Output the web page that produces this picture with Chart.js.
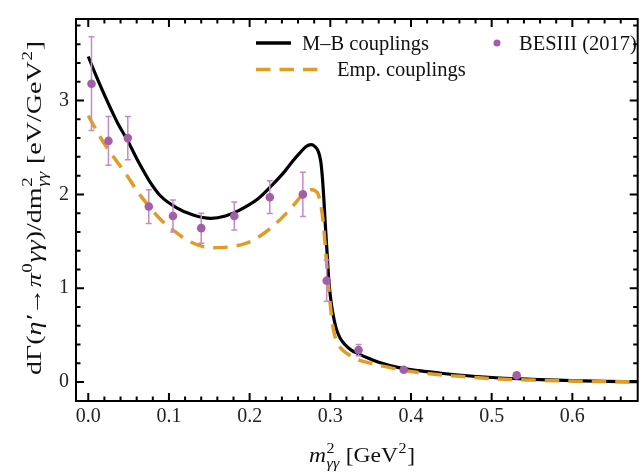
<!DOCTYPE html>
<html lang="en">
<head>
<meta charset="UTF-8">
<title>η′ → π⁰γγ diphoton spectrum</title>
<script src="https://cdn.jsdelivr.net/npm/chart.js"></script>
<style>
  body { margin: 0; background: #fff; }
</style>
</head>
<body>
<canvas id="spectrumChart" width="642" height="472"></canvas>
<script>
// M-B couplings prediction
const mbX = [0, 0.009, 0.0185, 0.028, 0.037, 0.049, 0.062, 0.076, 0.09, 0.109, 0.13, 0.152, 0.17, 0.187, 0.21, 0.228, 0.243, 0.253, 0.262, 0.27, 0.276, 0.281, 0.285, 0.288, 0.290, 0.292, 0.294, 0.296, 0.298, 0.300, 0.303, 0.307, 0.312, 0.318, 0.326, 0.335, 0.345, 0.36, 0.385, 0.41, 0.44, 0.47, 0.51, 0.55, 0.6, 0.64, 0.68];
const mbY = [3.47, 3.28, 3.09, 2.91, 2.75, 2.57, 2.35, 2.14, 1.98, 1.86, 1.78, 1.745, 1.77, 1.83, 1.95, 2.10, 2.24, 2.35, 2.44, 2.51, 2.53, 2.51, 2.46, 2.36, 2.20, 1.95, 1.65, 1.38, 1.10, 0.92, 0.74, 0.58, 0.47, 0.40, 0.34, 0.30, 0.26, 0.21, 0.153, 0.12, 0.09, 0.066, 0.042, 0.028, 0.015, 0.007, 0.003];

// empirical couplings prediction
const empX = [0, 0.009, 0.0185, 0.033, 0.047, 0.061, 0.076, 0.09, 0.105, 0.125, 0.154, 0.175, 0.196, 0.217, 0.237, 0.252, 0.265, 0.272, 0.277, 0.281, 0.285, 0.288, 0.291, 0.294, 0.297, 0.300, 0.303, 0.307, 0.313, 0.323, 0.335, 0.35, 0.364, 0.39, 0.426, 0.46, 0.508, 0.55, 0.6, 0.64, 0.68];
const empY = [2.84, 2.70, 2.56, 2.38, 2.215, 2.03, 1.866, 1.73, 1.62, 1.50, 1.43, 1.44, 1.48, 1.58, 1.725, 1.86, 1.99, 2.04, 2.05, 2.04, 2.00, 1.90, 1.72, 1.42, 1.10, 0.82, 0.60, 0.45, 0.36, 0.29, 0.235, 0.20, 0.171, 0.125, 0.085, 0.06, 0.032, 0.02, 0.01, 0.004, 0.0];

// BESIII (2017) measurement
const besX = [0.004, 0.025, 0.049, 0.075, 0.105, 0.140, 0.181, 0.225, 0.266, 0.2955, 0.335, 0.391, 0.531];
const besY = [3.18, 2.57, 2.60, 1.87, 1.77, 1.64, 1.77, 1.97, 2.00, 1.08, 0.34, 0.13, 0.07];
const besErr = [0.50, 0.26, 0.23, 0.18, 0.17, 0.16, 0.15, 0.175, 0.235, 0.22, 0.06, 0.02, 0.01];

const xTicks = [0, 0.1, 0.2, 0.3, 0.4, 0.5, 0.6];
const yTicks = [0, 1, 2, 3];

const SERIF = '"Liberation Serif", "Times New Roman", serif';
const ORANGE = '#e19c24';
const PURPLE = '#a25fa8';
const BAR = '#c48ac6';

const pts = (xs, ys) => xs.map((x, i) => ({ x: x, y: ys[i] }));

// draws a string made of runs with sub/superscripts, centred on (cx, cy);
// len stretches the run along its baseline to that many pixels
function richText(ctx, parts, cx, cy, rot, size, len) {
  const small = Math.round(size * 0.7);
  const font = (it, s) => (it ? 'italic ' : '') + s + 'px ' + SERIF;
  const widthOf = (p) => {
    if (p.t !== undefined) { ctx.font = font(p.it, size); return ctx.measureText(p.t).width; }
    let w = 0;
    if (p.sup) { ctx.font = font(false, small); w = Math.max(w, ctx.measureText(p.sup).width); }
    if (p.sub) { ctx.font = font(true, small); w = Math.max(w, ctx.measureText(p.sub).width); }
    return w + 1;
  };
  ctx.save();
  ctx.translate(cx, cy);
  ctx.rotate(rot);
  ctx.fillStyle = '#111';
  ctx.textBaseline = 'alphabetic';
  ctx.textAlign = 'left';
  const total = parts.reduce((s, p) => s + widthOf(p), 0);
  if (len) ctx.scale(len / total, 1);
  let x = -total / 2;
  parts.forEach(p => {
    if (p.t !== undefined) {
      ctx.font = font(p.it, size);
      ctx.fillText(p.t, x, 0);
    } else {
      if (p.sup) { ctx.font = font(false, small); ctx.fillText(p.sup, x + 0.5, -size * 0.42); }
      if (p.sub) { ctx.font = font(true, small); ctx.fillText(p.sub, x + 0.5, size * 0.27); }
    }
    x += widthOf(p);
  });
  ctx.restore();
}

const frameTicks = {
  id: 'frameTicks',
  beforeDatasetDraw(chart, args) {
    if (args.index !== 2) return;
    const { ctx, scales: { x, y } } = chart;
    ctx.save();
    ctx.strokeStyle = BAR;
    ctx.lineWidth = 1.5;
    besX.forEach((v, i) => {
      const px = x.getPixelForValue(v);
      const top = y.getPixelForValue(besY[i] + besErr[i]);
      const bot = y.getPixelForValue(besY[i] - besErr[i]);
      ctx.beginPath();
      ctx.moveTo(px, top); ctx.lineTo(px, bot);
      ctx.moveTo(px - 3, top); ctx.lineTo(px + 3, top);
      ctx.moveTo(px - 3, bot); ctx.lineTo(px + 3, bot);
      ctx.stroke();
    });
    ctx.restore();
  },
  afterDraw(chart) {
    const { ctx, chartArea: a, scales: { x, y } } = chart;
    ctx.save();
    ctx.strokeStyle = '#000';
    ctx.lineWidth = 2;
    ctx.strokeRect(a.left, a.top, a.right - a.left, a.bottom - a.top);

    // inward ticks on all four sides
    ctx.beginPath();
    for (let k = 0; k <= 34; k++) {
      const v = k * 0.02;
      const px = x.getPixelForValue(v);
      if (px <= a.left + 1 || px >= a.right - 1) continue;
      const len = k % 5 === 0 ? 8 : 4.5;
      ctx.moveTo(px, a.bottom); ctx.lineTo(px, a.bottom - len);
      ctx.moveTo(px, a.top); ctx.lineTo(px, a.top + len);
    }
    for (let k = -1; k <= 19; k++) {
      const v = k * 0.2;
      const py = y.getPixelForValue(v);
      if (py >= a.bottom - 1 || py <= a.top + 1) continue;
      const len = k % 5 === 0 ? 8 : 4.5;
      ctx.moveTo(a.left, py); ctx.lineTo(a.left + len, py);
      ctx.moveTo(a.right, py); ctx.lineTo(a.right - len, py);
    }
    ctx.stroke();

    // legend
    const ds = chart.data.datasets;
    ctx.lineCap = 'butt';
    ctx.strokeStyle = ds[0].borderColor;
    ctx.lineWidth = 3.5;
    ctx.beginPath(); ctx.moveTo(256, 43); ctx.lineTo(291, 43); ctx.stroke();
    ctx.strokeStyle = ds[1].borderColor;
    ctx.setLineDash([14.5, 9]);
    ctx.beginPath(); ctx.moveTo(256, 69.5); ctx.lineTo(318, 69.5); ctx.stroke();
    ctx.setLineDash([]);
    ctx.fillStyle = PURPLE;
    ctx.beginPath(); ctx.arc(497, 43, 3.5, 0, Math.PI * 2); ctx.fill();
    ctx.fillStyle = '#111';
    ctx.font = '20.5px ' + SERIF;
    ctx.textBaseline = 'alphabetic';
    ctx.fillText(ds[0].label, 302, 50);
    ctx.fillText(ds[1].label, 337, 76);
    ctx.fillText(ds[2].label, 519, 50);
    ctx.restore();

    // axis titles
    richText(ctx, [
      { t: 'm', it: true }, { sup: '2', sub: 'γγ' }, { t: ' [GeV' }, { sup: '2' }, { t: ']' }
    ], 362, 462, 0, 22, 106);
    richText(ctx, [
      { t: 'dΓ(' }, { t: 'η′→π', it: true }, { sup: '0' }, { t: 'γγ', it: true },
      { t: ')/dm' }, { sup: '2', sub: 'γγ' }, { t: ' [eV/GeV' }, { sup: '2' }, { t: ']' }
    ], 41, 208, -Math.PI / 2, 22, 334);
  }
};

new Chart(document.getElementById('spectrumChart'), {
  type: 'line',
  data: {
    datasets: [{
      label: 'M–B couplings',
      data: pts(mbX, mbY),
      borderColor: '#000',
      borderWidth: 3.2,
      pointRadius: 0,
      cubicInterpolationMode: 'monotone',
      order: 2
    }, {
      label: 'Emp. couplings',
      data: pts(empX, empY),
      borderColor: ORANGE,
      borderWidth: 3.5,
      borderDash: [14.5, 9],
      pointRadius: 0,
      cubicInterpolationMode: 'monotone',
      order: 1
    }, {
      label: 'BESIII (2017)',
      type: 'scatter',
      data: pts(besX, besY),
      backgroundColor: PURPLE,
      borderColor: PURPLE,
      pointRadius: 4.3,
      pointBorderWidth: 0,
      order: 0
    }]
  },
  options: {
    responsive: false,
    animation: false,
    layout: { padding: { top: 12, right: 2, left: 0, bottom: 0 } },
    plugins: { legend: { display: false }, tooltip: { enabled: false } },
    scales: {
      x: {
        type: 'linear',
        min: -0.0152,
        max: 0.681,
        afterBuildTicks: s => { s.ticks = xTicks.map(v => ({ value: v })); },
        afterFit: s => { s.height = 71; },
        grid: { display: false, drawTicks: false },
        border: { display: false },
        ticks: {
          padding: 4,
          color: '#222',
          font: { family: SERIF, size: 20 },
          maxRotation: 0,
          callback: v => v.toFixed(1)
        }
      },
      y: {
        type: 'linear',
        min: -0.203,
        max: 3.87,
        afterBuildTicks: s => { s.ticks = yTicks.map(v => ({ value: v })); },
        afterFit: s => { s.width = 76; },
        grid: { display: false, drawTicks: false },
        border: { display: false },
        ticks: {
          padding: 7,
          color: '#222',
          font: { family: SERIF, size: 20 },
          callback: v => String(v)
        }
      }
    }
  },
  plugins: [frameTicks]
});
</script>
</body>
</html>
